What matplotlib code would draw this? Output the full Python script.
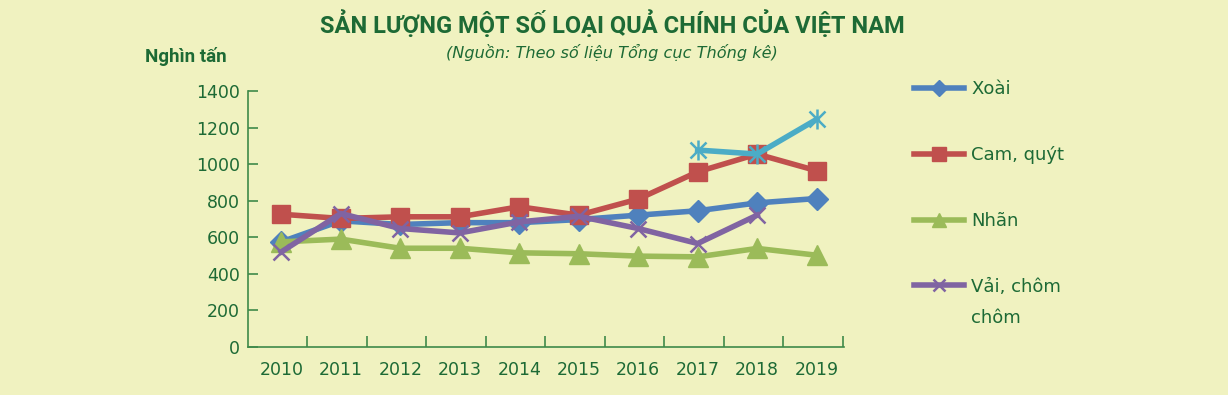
import matplotlib
matplotlib.use("Agg")
import matplotlib.pyplot as plt
import numpy as np

years = ["2010", "2011", "2012", "2013", "2014", "2015", "2016", "2017", "2018", "2019"]

xoai = [575, 690, 670, 680, 680, 697, 721, 745, 788, 812]
cam_quyt = [726, 703, 712, 712, 767, 721, 809, 958, 1055, 964]
nhan = [575, 590, 540, 540, 515, 510, 497, 493, 539, 502]
vai = [520, 730, 648, 624, 684, 715, 648, 566, 721, np.nan]
# unlabelled cyan series (only 2017-2019)
extra = [np.nan] * 7 + [1077, 1055, 1245]

bg = "#f0f2c0"
green_txt = "#1d6a35"
axis_col = "#3f8a4a"

fig = plt.figure(figsize=(12.28, 3.95), dpi=100, facecolor=bg)
ax = fig.add_axes([248 / 1228, 1 - 347 / 395, (844 - 248) / 1228, (347 - 91) / 395])
ax.set_facecolor(bg)

x = np.arange(len(years))
lw = 4
h1, = ax.plot(x, xoai, color="#4F81BD", lw=lw, marker="D", ms=11, label="Xoài")
h2, = ax.plot(x, cam_quyt, color="#C0504D", lw=lw, marker="s", ms=13, label="Cam, quýt")
h3, = ax.plot(x, nhan, color="#9BBB59", lw=lw, marker="^", ms=14, label="Nhãn")
h4, = ax.plot(x, vai, color="#8064A2", lw=lw, marker="x", ms=12, mew=1.8,
              label="Vải, chôm")
ax.plot(x, extra, color="#4BACC6", lw=lw, marker="x", ms=12, mew=1.8)
ax.plot(x, extra, color="#4BACC6", lw=0, marker="|", ms=14, mew=1.8)

ax.set_xlim(-0.56, 9.46)
ax.set_ylim(0, 1400)
ax.set_yticks(np.arange(0, 1401, 200))
ax.set_xticks(x + 0.44)
ax.set_xticks(x, minor=True)
ax.set_xticklabels([])
ax.set_xticklabels(years, minor=True)
ax.tick_params(axis="x", which="major", direction="in", length=8, color=axis_col, width=1.2)
ax.tick_params(axis="x", which="minor", length=0, pad=10, labelsize=12.5, labelcolor=green_txt)
ax.tick_params(axis="y", direction="in", length=7, color=axis_col, width=1.2,
               labelsize=12.5, labelcolor=green_txt, pad=6)

for s in ["top", "right"]:
    ax.spines[s].set_visible(False)
for s in ["left", "bottom"]:
    ax.spines[s].set_color(axis_col)
    ax.spines[s].set_linewidth(1.2)

fig.text(0.4985, 0.94, "SẢN LƯỢNG MỘT SỐ LOẠI QUẢ CHÍNH CỦA VIỆT NAM", ha="center", va="center",
         fontsize=17, fontweight="bold", color=green_txt, family="Roboto")
fig.text(0.4985, 0.868, "(Nguồn: Theo số liệu Tổng cục Thống kê)", ha="center", va="center",
         fontsize=11.6, style="italic", color=green_txt)
fig.text(145 / 1228, 1 - 57 / 395, "Nghìn tấn", ha="left", va="center",
         fontsize=13.5, fontweight="bold", color=green_txt, family="Roboto")

leg = fig.legend(handles=[h1, h2, h3, h4], loc="upper left",
                 bbox_to_anchor=(898 / 1228, 1 - 64 / 395), frameon=False,
                 fontsize=13, labelcolor=green_txt, handlelength=2.75,
                 labelspacing=2.65, handletextpad=0.4, markerscale=0.75)
fig.text(971 / 1228, 1 - 318 / 395, "chôm", ha="left", va="center",
         fontsize=13, color=green_txt)

fig.savefig("out.png", dpi=100, facecolor=bg)
